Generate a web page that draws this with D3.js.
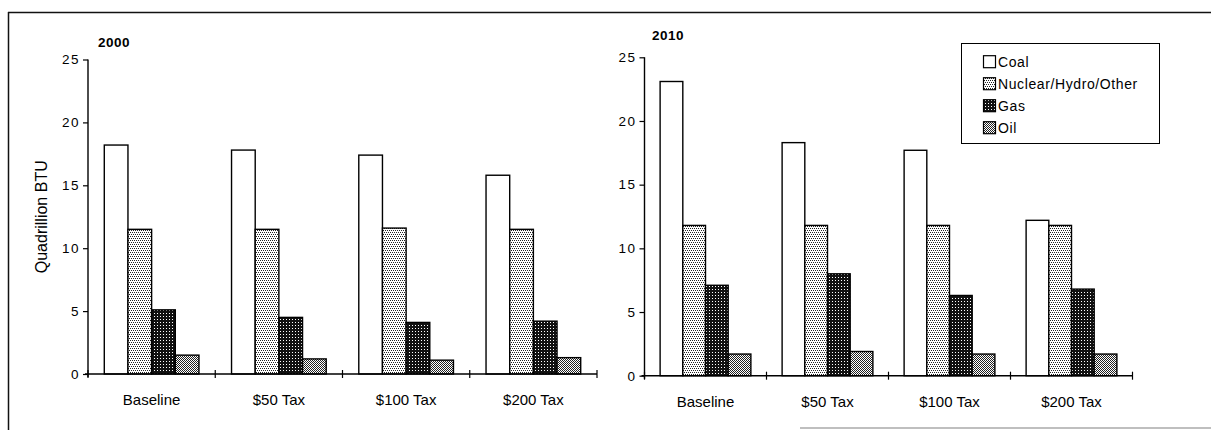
<!DOCTYPE html>
<html>
<head>
<meta charset="utf-8">
<script src="https://cdn.jsdelivr.net/npm/d3@7"></script>
<style>
  html, body { margin: 0; padding: 0; background: #fff; }
  svg { display: block; }
  svg text { font-family: "Liberation Sans", Arial, sans-serif; fill: #000; }
</style>
</head>
<body>
<svg id="chart" width="1211" height="430"></svg>
<script>
// Energy consumption by fuel under carbon tax scenarios (quadrillion BTU)
const categories = ["Baseline", "$50 Tax", "$100 Tax", "$200 Tax"];
const fuels = ["Coal", "Nuclear/Hydro/Other", "Gas", "Oil"];
const yTicks = [0, 5, 10, 15, 20, 25];

const coal2000    = [18.2, 17.8, 17.4, 15.8];
const nuclear2000 = [11.5, 11.5, 11.6, 11.5];
const gas2000     = [5.1, 4.5, 4.1, 4.2];
const oil2000     = [1.5, 1.2, 1.1, 1.3];

const coal2010    = [23.1, 18.3, 17.7, 12.2];
const nuclear2010 = [11.8, 11.8, 11.8, 11.8];
const gas2010     = [7.1, 8.0, 6.3, 6.8];
const oil2010     = [1.7, 1.9, 1.7, 1.7];

const panels = [
  { title: "2000", series: [coal2000, nuclear2000, gas2000, oil2000],
    x: [88, 597], y: [374, 59.5], titlePos: [98, 46.5], ylabel: true },
  { title: "2010", series: [coal2010, nuclear2010, gas2010, oil2010],
    x: [644.5, 1132.5], y: [375.7, 57.3], titlePos: [652, 39.5], ylabel: false }
];

const svg = d3.select("#chart");
const defs = svg.append("defs");

// Monochrome fill patterns, pixel aligned
function pattern(id, w, h, bg, fg, cells) {
  const p = defs.append("pattern").attr("id", id)
    .attr("patternUnits", "userSpaceOnUse")
    .attr("width", w).attr("height", h);
  p.append("rect").attr("width", w).attr("height", h).attr("fill", bg);
  cells.forEach(([cx, cy]) => p.append("rect")
    .attr("x", cx).attr("y", cy).attr("width", 1).attr("height", 1)
    .attr("fill", fg).attr("shape-rendering", "crispEdges"));
}
pattern("pNuclear", 4, 4, "#fff", "#222", [[0,0],[2,0],[1,2],[3,2]]);
pattern("pGas", 3, 3, "#111", "#fff", [[1,1]]);
pattern("pOil", 2, 2, "#fff", "#222", [[0,0],[1,1]]);

const fills = ["#fff", "url(#pNuclear)", "url(#pGas)", "url(#pOil)"];
const fillScale = d3.scaleOrdinal().domain(fuels).range(fills);

// Outer frame
svg.append("line").attr("x1", 8).attr("x2", 1211).attr("y1", 12.5).attr("y2", 12.5)
  .attr("stroke", "#111").attr("stroke-width", 1.5);
svg.append("line").attr("x1", 8.5).attr("x2", 8.5).attr("y1", 12).attr("y2", 430)
  .attr("stroke", "#111").attr("stroke-width", 1.5);
svg.append("line").attr("x1", 800).attr("x2", 1211).attr("y1", 428).attr("y2", 428)
  .attr("stroke", "#aaa").attr("stroke-width", 1.5);

panels.forEach(panel => {
  const g = svg.append("g");
  const x0 = d3.scaleBand().domain(categories).range(panel.x).paddingInner(0).paddingOuter(0);
  const bw = x0.bandwidth();
  const x1 = d3.scaleBand().domain(fuels).range([bw * 0.128, bw * 0.872]).padding(0);
  const y = d3.scaleLinear().domain([0, 25]).range(panel.y);

  // Bars
  categories.forEach((cat, ci) => {
    fuels.forEach((fuel, fi) => {
      const v = panel.series[fi][ci];
      g.append("rect")
        .attr("x", x0(cat) + x1(fuel))
        .attr("y", y(v))
        .attr("width", x1.bandwidth())
        .attr("height", y(0) - y(v))
        .attr("fill", fillScale(fuel))
        .attr("stroke", "#000")
        .attr("stroke-width", 1.4);
    });
  });

  // Y axis
  const yAxis = d3.axisLeft(y).tickValues(yTicks).tickSize(5).tickPadding(3);
  const ya = g.append("g").attr("transform", `translate(${panel.x[0]},0)`).call(yAxis);
  ya.attr("font-size", null).attr("font-family", null);
  ya.select(".domain").attr("stroke", "#000").attr("stroke-width", 1.4)
    .attr("d", `M0,${panel.y[1]}V${panel.y[0] + 3}`);
  ya.selectAll(".tick line").attr("stroke", "#000").attr("stroke-width", 1.2);
  ya.selectAll(".tick text")
    .style("font-size", "13.5px").style("letter-spacing", "1.5px");

  // X axis: baseline with boundary tick marks crossing it
  const boundaries = categories.map(c => x0(c)).concat([panel.x[1]]);
  g.append("line").attr("x1", panel.x[0] - 3).attr("x2", panel.x[1])
    .attr("y1", y(0)).attr("y2", y(0)).attr("stroke", "#000").attr("stroke-width", 1.4);
  g.selectAll(".xtick").data(boundaries).join("line").attr("class", "xtick")
    .attr("x1", d => d).attr("x2", d => d)
    .attr("y1", y(0) - 4).attr("y2", y(0) + 4)
    .attr("stroke", "#000").attr("stroke-width", 1.2);
  g.selectAll(".xlabel").data(categories).join("text").attr("class", "xlabel")
    .attr("x", d => x0(d) + bw / 2)
    .attr("y", y(0) + 31)
    .attr("text-anchor", "middle")
    .style("font-size", "15px")
    .text(d => d);

  // Panel title
  g.append("text").attr("x", panel.titlePos[0]).attr("y", panel.titlePos[1])
    .style("font-size", "13.5px").style("font-weight", "bold").style("letter-spacing", "0.5px")
    .text(panel.title);

  if (panel.ylabel) {
    g.append("text")
      .attr("transform", `translate(47,${(panel.y[0] + panel.y[1]) / 2}) rotate(-90)`)
      .attr("text-anchor", "middle")
      .style("font-size", "16px")
      .text("Quadrillion BTU");
  }
});

// Legend
const legend = svg.append("g");
legend.append("rect").attr("x", 961.5).attr("y", 43.5).attr("width", 198).attr("height", 100)
  .attr("fill", "#fff").attr("stroke", "#000").attr("stroke-width", 1);
const rowY = d3.scalePoint().domain(fuels).range([61.7, 127.7]);
fuels.forEach(f => {
  legend.append("rect").attr("x", 983.5).attr("y", rowY(f) - 6).attr("width", 12).attr("height", 12)
    .attr("fill", fillScale(f)).attr("stroke", "#000").attr("stroke-width", 1.2);
  legend.append("text").attr("x", 998).attr("y", rowY(f) + 5)
    .style("font-size", "14px").style("letter-spacing", "0.6px").text(f);
});
</script>
</body>
</html>
